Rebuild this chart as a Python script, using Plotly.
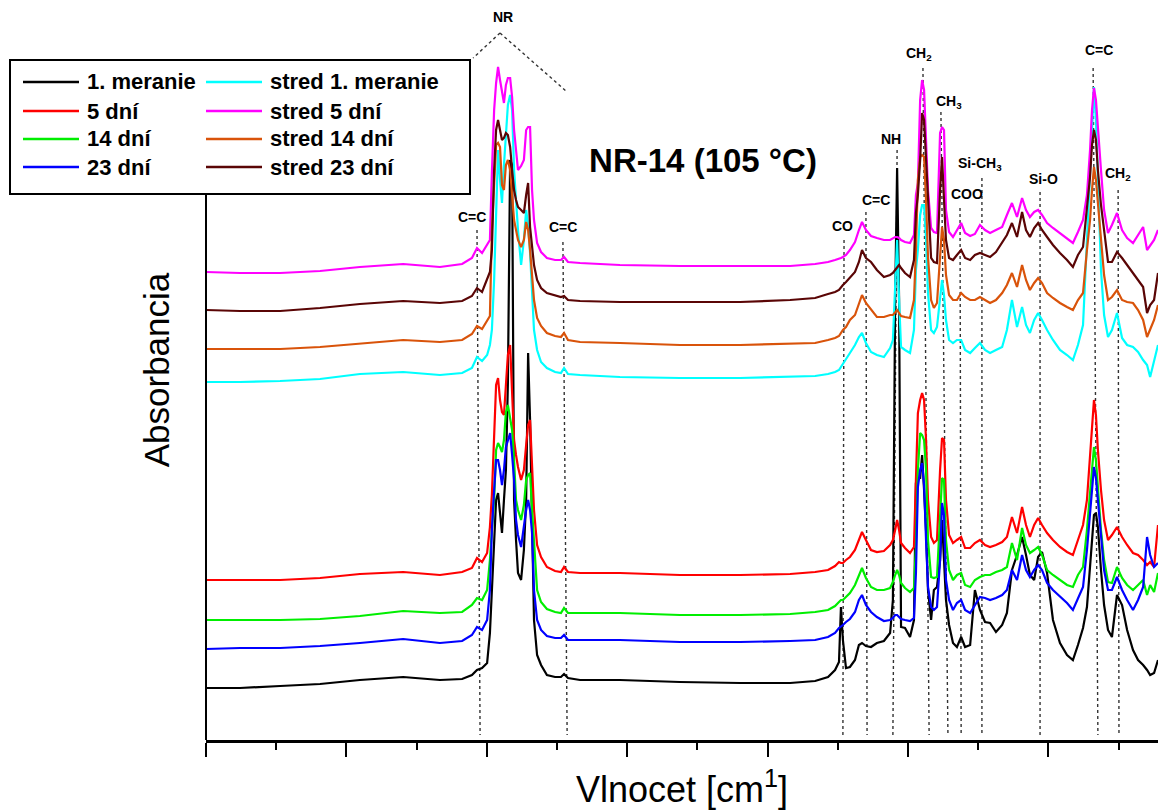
import plotly.graph_objects as go

# ---------------- data (arbitrary absorbance units) ----------------
wavenumber = [4000, 3879, 3736, 3594, 3452, 3298, 3167, 3088, 3053, 3035, 3017, 2999,
              2989, 2982, 2974, 2967, 2960, 2953, 2946, 2939, 2932, 2925, 2917, 2910, 2903, 2896,
              2889, 2878, 2868, 2860, 2853, 2846, 2839, 2832, 2821, 2807, 2786, 2757, 2736, 2725,
              2711, 2668,
              2526, 2312, 2098, 1920, 1831, 1785, 1760,
              1746, 1739, 1732, 1721, 1707, 1689, 1675, 1664, 1650, 1632, 1611, 1586, 1564, 1554,
              1546, 1539, 1532, 1525, 1511, 1493, 1479, 1472, 1465, 1457, 1450, 1443, 1436, 1429,
              1418, 1408, 1397, 1386, 1379, 1372, 1365, 1354, 1340, 1326, 1311, 1297, 1279, 1262,
              1244, 1226, 1208, 1187, 1165, 1148, 1130, 1112, 1094, 1080, 1066, 1051, 1037, 1023,
              1005, 984, 959, 934, 913, 895, 877, 863, 852, 845, 838, 831, 824, 813, 802, 788, 774,
              756, 738, 720, 699, 681, 663, 649, 638, 624, 610]

meranie_1 = [52, 52, 54, 56, 60, 63, 60, 61, 65, 70, 72, 77,
             107, 150, 200, 240, 247, 230, 207, 240, 270, 357, 580, 575, 240, 200, 167, 160, 190, 240,
             387, 320, 200, 120, 85, 75, 65, 63, 63, 66, 62, 60,
             60, 58, 57, 57, 59, 63, 70,
             78, 133, 100, 72, 73, 80, 95, 97, 94, 93, 97, 99, 107, 140, 440, 572, 440, 113, 112, 103,
             120, 257, 262, 262, 285, 250, 210, 150, 120, 150, 153, 180, 220, 180, 140, 115, 97, 93,
             103, 93, 95, 150, 130, 118, 117, 108, 115, 127, 170, 185, 203, 185, 165, 160, 183, 188,
             167, 120, 97, 85, 80, 95, 112, 133, 170, 200, 225, 227, 213, 170, 135, 110, 103, 145,
             135, 110, 90, 80, 75, 70, 65, 67, 80]

dni_5 = [160, 160, 160, 162, 166, 168, 165, 168, 172, 182, 178, 187,
         213, 245, 310, 355, 362, 340, 328, 325, 355, 385, 395, 340, 300, 285, 273, 260, 270, 295,
         315, 320, 280, 230, 195, 183, 173, 169, 168, 173, 168, 167,
         167, 165, 165, 166, 168, 170, 174,
         178, 177, 177, 180, 183, 190, 200, 208, 200, 190, 188, 189, 195, 200, 210, 220, 210, 197,
         192, 187, 193, 270, 327, 340, 347, 340, 300, 240, 203, 197, 200, 270, 302, 300, 240, 205,
         197, 200, 203, 192, 192, 197, 200, 195, 193, 195, 198, 203, 223, 207, 233, 215, 203, 215,
         222, 215, 207, 200, 193, 188, 185, 200, 215, 240, 280, 310, 340, 325, 290, 250, 220, 200,
         205, 213, 203, 195, 187, 185, 180, 175, 178, 173, 215]

dni_14 = [120, 120, 120, 121, 124, 129, 127, 128, 135, 142, 140, 150,
          180, 210, 240, 290, 297, 293, 288, 300, 328, 335, 323, 310, 280, 240, 230, 220, 235, 260,
          265, 267, 230, 195, 150, 138, 131, 128, 127, 132, 127, 127,
          127, 125, 125, 126, 128, 130, 134,
          138, 140, 140, 143, 147, 155, 165, 172, 162, 153, 150, 150, 152, 158, 165, 170, 165, 157,
          152, 148, 152, 193, 270, 307, 305, 300, 270, 200, 163, 162, 163, 220, 262, 260, 200, 170,
          160, 165, 167, 155, 153, 160, 163, 165, 165, 168, 170, 173, 197, 180, 212, 195, 187, 190,
          193, 185, 170, 165, 160, 155, 153, 165, 173, 210, 247, 275, 293, 280, 250, 210, 180, 158,
          157, 173, 162, 155, 150, 155, 160, 145, 155, 148, 167]

dni_23 = [91, 92, 92, 94, 97, 101, 97, 99, 105, 113, 110, 120,
          150, 210, 250, 280, 280, 270, 255, 270, 293, 300, 307, 285, 260, 220, 205, 193, 215, 230,
          240, 230, 207, 150, 120, 110, 104, 102, 102, 105, 100, 100,
          100, 98, 98, 99, 100, 103, 107,
          112, 114, 115, 118, 121, 128, 140, 145, 135, 128, 123, 119, 120, 122, 125, 125, 123, 121,
          120, 119, 122, 167, 253, 270, 277, 255, 200, 153, 133, 130, 133, 180, 237, 225, 160, 140,
          130, 137, 140, 130, 127, 135, 143, 142, 140, 142, 145, 150, 170, 160, 185, 170, 163, 170,
          175, 170, 157, 150, 143, 137, 130, 142, 153, 190, 227, 255, 273, 262, 240, 200, 170, 150,
          150, 163, 150, 140, 130, 140, 153, 203, 185, 173, 177]

stred_1 = [358, 358, 359, 361, 366, 368, 365, 367, 372, 383, 379, 385,
           395, 410, 460, 520, 590, 560, 537, 575, 610, 635, 645, 630, 570, 540, 510, 475, 500, 530,
           515, 487, 440, 410, 390, 378, 372, 368, 367, 372, 366, 365,
           363, 362, 362, 363, 364, 366, 368,
           370, 373, 375, 380, 387, 395, 403, 407, 397, 388, 385, 383, 392, 400, 450, 500, 440, 393,
           390, 387, 410, 470, 490, 525, 535, 535, 500, 447, 410, 407, 413, 440, 460, 445, 420, 400,
           397, 400, 400, 390, 387, 392, 397, 390, 387, 390, 393, 410, 440, 413, 433, 415, 407, 420,
           427, 420, 410, 400, 390, 385, 380, 395, 415, 500, 570, 613, 653, 620, 560, 470, 425, 403,
           410, 427, 402, 395, 393, 388, 380, 375, 363, 380, 395]

stred_5 = [468, 467, 467, 469, 473, 476, 473, 476, 482, 492, 487, 495,
           500, 567, 630, 657, 673, 660, 650, 637, 655, 662, 662, 643, 610, 590, 570, 574, 580, 610,
           613, 613, 550, 520, 497, 488, 482, 480, 480, 483, 478, 477,
           475, 474, 474, 474, 476, 478, 480,
           481, 482, 483, 485, 490, 498, 510, 518, 510, 504, 502, 500, 500, 502, 503, 503, 502, 500,
           498, 497, 505, 545, 557, 640, 660, 650, 600, 550, 512, 508, 507, 607, 613, 610, 530, 508,
           503, 510, 517, 507, 504, 506, 515, 510, 507, 510, 513, 525, 537, 523, 542, 530, 523, 528,
           530, 525, 517, 512, 507, 502, 497, 508, 520, 545, 590, 630, 652, 640, 610, 570, 530, 507,
           515, 527, 510, 502, 497, 505, 513, 490, 495, 500, 510]

stred_14 = [391, 391, 391, 393, 396, 400, 398, 400, 406, 414, 411, 420,
            424, 510, 565, 595, 597, 593, 555, 550, 575, 580, 570, 545, 520, 510, 500, 493, 500, 518,
            510, 490, 460, 440, 422, 414, 407, 404, 403, 407, 400, 398,
            397, 395, 395, 396, 397, 400, 402,
            404, 407, 410, 413, 420, 425, 437, 445, 437, 430, 423, 423, 425, 425, 428, 430, 427, 424,
            423, 422, 440, 490, 560, 583, 585, 583, 540, 483, 440, 432, 437, 490, 513, 500, 465, 445,
            440, 440, 447, 443, 440, 440, 443, 440, 437, 440, 447, 455, 467, 453, 475, 460, 450, 457,
            462, 457, 447, 442, 437, 433, 430, 440, 447, 490, 520, 550, 573, 560, 535, 495, 465, 440,
            443, 450, 440, 438, 437, 430, 420, 403, 410, 420, 435]

stred_23 = [430, 429, 429, 432, 436, 439, 437, 439, 444, 452, 448, 460,
            468, 490, 570, 610, 620, 610, 600, 602, 607, 605, 593, 570, 550, 540, 533, 530, 527, 545,
            557, 513, 490, 475, 460, 452, 447, 445, 443, 444, 440, 439,
            438, 438, 438, 440, 442, 446, 448,
            450, 453, 455, 458, 462, 468, 478, 490, 482, 478, 470, 463, 465, 467, 470, 473, 475, 472,
            467, 463, 480, 527, 545, 580, 627, 620, 580, 540, 482, 478, 477, 550, 583, 540, 500, 482,
            480, 485, 490, 482, 480, 485, 487, 485, 483, 488, 497, 505, 517, 503, 528, 510, 503, 512,
            517, 510, 503, 495, 487, 480, 473, 485, 493, 535, 563, 595, 610, 600, 570, 535, 510, 478,
            478, 488, 482, 475, 467, 460, 453, 427, 435, 440, 467]

series_names = ["1. meranie", "5 dní", "14 dní", "23 dní",
                "stred 1. meranie", "stred 5 dní", "stred 14 dní", "stred 23 dní"]
series_values = [meranie_1, dni_5, dni_14, dni_23, stred_1, stred_5, stred_14, stred_23]

# band assignments: label, wavenumber of label, height of label
band_labels = ["NR", "C=C", "C=C", "CO", "C=C", "NH", "CH<sub>2</sub>", "CH<sub>3</sub>", "COO",
               "Si-CH<sub>3</sub>", "Si-O", "C=C", "CH<sub>2</sub>"]
band_label_wn = [2942, 3053, 2729, 1732, 1614, 1561, 1461, 1354, 1290, 1244, 1016, 820, 752]
band_label_h = [723, 523, 513, 514, 540, 601, 686, 638, 546, 576, 561, 690, 566]

# dotted guide lines: (wn top, height top, wn bottom, height bottom)
guide_top_wn = [3035, 2729, 1728, 1650, 1539, 1447, 1383, 1315, 1237, 1030, 841, 752, 2953, 2953]
guide_top_h = [510, 498, 500, 528, 590, 672, 628, 532, 562, 548, 672, 550, 707, 707]
guide_bot_wn = [3024, 2714, 1732, 1646, 1554, 1425, 1358, 1311, 1237, 1030, 824, 749, 3049, 2718]
guide_bot_h = [5, 5, 5, 5, 5, 5, 5, 5, 5, 5, 5, 5, 682, 649]

# ---------------- styling ----------------
W, H = 1158, 811
ML, MR, MT, MB = 206, 0, 0, 71
PW, PH = W - ML - MR, H - MT - MB
FONT = "Liberation Sans, Arial, sans-serif"
colors = ["#000000", "#ff0000", "#00ee00", "#0000ff",
          "#00ffff", "#ff00ff", "#d9530a", "#5a0505"]


def px_x(px):
    return (px - ML) / PW


def px_y(py):
    return (H - MB - py) / PH


fig = go.Figure()
for name, vals, col in zip(series_names, series_values, colors):
    fig.add_trace(go.Scatter(x=wavenumber, y=vals, mode="lines", name=name,
                             line=dict(color=col, width=2.2), showlegend=False))

shapes = []
for x0, y0, x1, y1 in zip(guide_top_wn, guide_top_h, guide_bot_wn, guide_bot_h):
    shapes.append(dict(type="line", xref="x", yref="y", x0=x0, y0=y0, x1=x1, y1=y1,
                       line=dict(color="#333333", width=1.4, dash="dot"), layer="below"))

# left axis line (stops under the legend box)
shapes.append(dict(type="line", xref="paper", yref="paper", x0=0, x1=0, y0=0, y1=0.8,
                   line=dict(color="black", width=2)))

# legend box
shapes.append(dict(type="rect", xref="paper", yref="paper",
                   x0=px_x(10), x1=px_x(470), y0=px_y(194), y1=px_y(60),
                   line=dict(color="black", width=2), fillcolor="white", layer="above"))

annotations = []
row_y = [82, 111, 139, 167]
col_line = [(23, 79), (206, 262)]
col_text = [85, 268]
for i, (name, col) in enumerate(zip(series_names, colors)):
    c, r = divmod(i, 4)
    yy = px_y(row_y[r])
    shapes.append(dict(type="line", xref="paper", yref="paper",
                       x0=px_x(col_line[c][0]), x1=px_x(col_line[c][1]), y0=yy, y1=yy,
                       line=dict(color=col, width=2.5), layer="above"))
    annotations.append(dict(xref="paper", yref="paper", x=px_x(col_text[c]), y=yy,
                            text="<b>" + name + "</b>", showarrow=False,
                            xanchor="left", yanchor="middle",
                            font=dict(family=FONT, size=22, color="black")))

for t, xw, yh in zip(band_labels, band_label_wn, band_label_h):
    annotations.append(dict(xref="x", yref="y", x=xw, y=yh, text="<b>" + t + "</b>",
                            showarrow=False, xanchor="center", yanchor="middle",
                            font=dict(family=FONT, size=14, color="black")))

fig.update_layout(
    width=W, height=H,
    margin=dict(l=ML, r=MR, t=MT, b=MB),
    paper_bgcolor="white", plot_bgcolor="white",
    showlegend=False,
    font=dict(family=FONT, color="black"),
    title=dict(text="<b>NR-14 (105 °C)</b>", x=703 / W, y=1 - 160 / H,
               xref="container", yref="container", xanchor="center", yanchor="middle",
               font=dict(family=FONT, size=33, color="black")),
    xaxis=dict(range=[4000, 610], showline=True, linewidth=3, linecolor="black",
               ticks="outside", ticklen=14, tickwidth=2, tickcolor="black",
               tick0=0, dtick=500, showticklabels=False, showgrid=False, zeroline=False,
               minor=dict(ticks="outside", ticklen=7, tickwidth=2, tickcolor="black",
                          tick0=0, dtick=250, showgrid=False),
               title=dict(text="Vlnocet [cm<sup>1</sup>]", standoff=21,
                          font=dict(family=FONT, size=36, color="black"))),
    yaxis=dict(range=[0, 740], showline=False, ticks="", showticklabels=False,
               showgrid=False, zeroline=False,
               title=dict(text="Absorbancia", standoff=24,
                          font=dict(family=FONT, size=35, color="black"))),
    shapes=shapes,
    annotations=annotations,
)

fig.write_html("out.html", config={"displayModeBar": False},
               post_script="document.body.style.margin='0';document.body.style.overflow='hidden';")
